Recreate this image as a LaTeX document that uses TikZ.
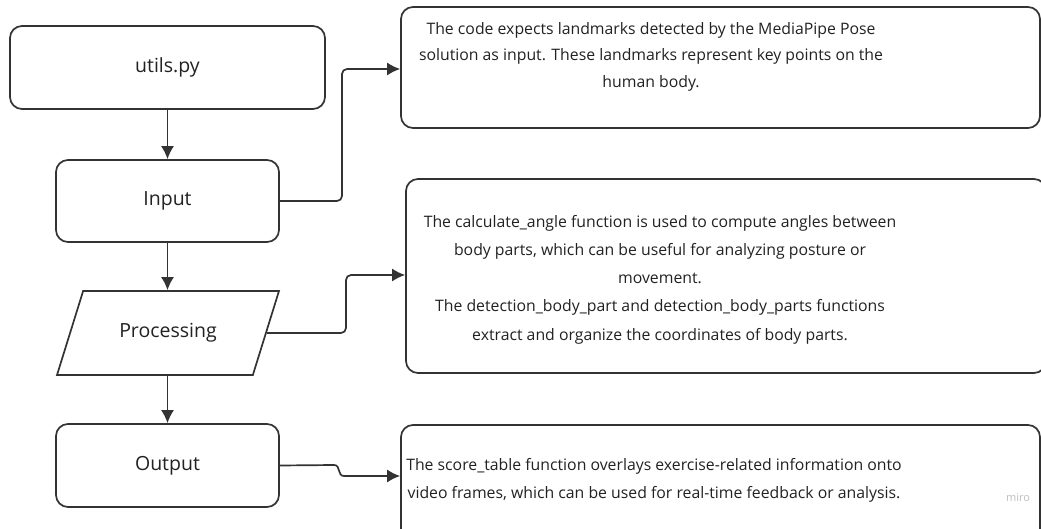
\documentclass[tikz,border=0pt]{standalone}
\usepackage{fontspec}
\setmainfont{Open Sans}
\usetikzlibrary{arrows.meta,shapes.geometric,calc}
\definecolor{ln}{HTML}{333333}
\definecolor{tx}{HTML}{222222}
\tikzset{
  stepbox/.style={draw=ln, line width=1.7pt, rounded corners=12pt, fill=white},
  lbl/.style={text=tx, font=\fontsize{19.5}{22}\selectfont},
  desc/.style={text=tx, align=center, inner sep=0pt},
  arr/.style={draw=ln, line width=1.7pt, -{Latex[length=13pt,width=13pt]}},
}
\begin{document}
\begin{tikzpicture}[x=1pt,y=-1pt]
\useasboundingbox (0,0) rectangle (1041,529);
% left column
\node[stepbox, lbl, minimum width=315pt, minimum height=83pt] (utils) at (167.5,67.5) {utils.py};
\node[stepbox, lbl, minimum width=223pt, minimum height=82pt] (input) at (167.5,201) {Input};
\node[draw=ln, line width=1.7pt, fill=white, lbl, trapezium, trapezium stretches=true,
      trapezium left angle=58, trapezium right angle=122,
      minimum width=222pt, minimum height=84pt] (proc) at (168,333) {Processing};
\node[stepbox, lbl, minimum width=223pt, minimum height=83pt] (output) at (167.5,465.5) {Output};
% right column boxes
\node[stepbox, minimum width=639pt, minimum height=121pt] (tbox) at (720.5,67.5) {};
\node[stepbox, minimum width=640pt, minimum height=194pt] (mbox) at (726,276) {};
\node[stepbox, minimum width=639pt, minimum height=120pt] (bbox) at (720.5,485) {};
% texts
\node[desc, font=\fontsize{15.8}{26.5}\selectfont] (ttext) at (651,56.5)
  {The code expects landmarks detected by the MediaPipe Pose\\
   solution as input. These landmarks represent key points on the\\
   human body.};
\node[desc, font=\fontsize{15.8}{28.3}\selectfont] (mtext) at (660,279.5)
  {The calculate\_angle function is used to compute angles between\\
   body parts, which can be useful for analyzing posture or\\
   movement.\\
   The detection\_body\_part and detection\_body\_parts functions\\
   extract and organize the coordinates of body parts.};
\node[desc, font=\fontsize{15.8}{28.3}\selectfont] (btext) at (654,480)
  {The score\_table function overlays exercise-related information onto\\
   video frames, which can be used for real-time feedback or analysis.};
\node[text=black!25, font=\fontsize{11}{11}\selectfont, inner sep=0pt] (miro) at (1018,498) {miro};
% connectors
\draw[arr] (utils.south) -- (input.north);
\draw[arr] (input.south) -- (input.south |- proc.north);
\draw[arr] (output.north |- proc.south) -- (output.north);
\draw[arr, rounded corners=5pt] (input.east) -- (342,201) |- (tbox.west |- 0,69);
\draw[arr, rounded corners=5pt] (proc.east) -- (346,333) |- (mbox.west |- 0,275);
\draw[arr] (output.east) -- (334,465) .. controls (341,465) and (337,476) .. (344,476) -- (bbox.west |- 0,476);
\end{tikzpicture}
\end{document}
